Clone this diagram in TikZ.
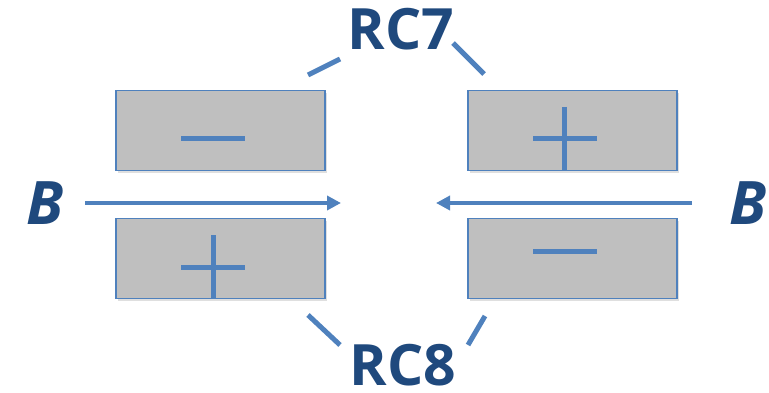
\documentclass[tikz,border=0pt]{standalone}
\usepackage{fontspec}
\setmainfont{Open Sans}
\usetikzlibrary{arrows.meta,shadows}
\definecolor{boxfill}{HTML}{BFBFBF}
\definecolor{lineblue}{HTML}{4F81BD}
\definecolor{textblue}{HTML}{1F497D}
\tikzset{
  plate/.style={draw=lineblue, line width=1.5pt, fill=boxfill, minimum width=209pt, minimum height=80pt, inner sep=0pt,
    drop shadow={shadow xshift=1.5pt, shadow yshift=-2.5pt, opacity=0.25}},
  sign/.style={draw=lineblue, line width=5pt},
  leader/.style={draw=lineblue, line width=5pt},
  field/.style={draw=lineblue, line width=4.5pt, -{Triangle[length=14pt,width=14pt]}},
  rclabel/.style={text=textblue, font=\fontsize{57}{58}\selectfont\bfseries, inner sep=0pt, text depth=0pt, anchor=base},
  blabel/.style={text=textblue, font=\fontsize{60}{62}\selectfont\bfseries\itshape, inner sep=0pt, anchor=base}
}
\begin{document}
\begin{tikzpicture}[x=1pt,y=-1pt]
\useasboundingbox (0,0) rectangle (769,393);
% plates
\node[plate] (tl) at (220.5,130.5) {};
\node[plate] (tr) at (572.5,130.5) {};
\node[plate] (bl) at (220.5,258.5) {};
\node[plate] (br) at (572.5,258.5) {};
% signs
\draw[sign] (181,139) -- (245,139);
\draw[sign] (533,139) -- (597,139);
\draw[sign] (564,107) -- (564,171);
\draw[sign] (181,267) -- (245,267);
\draw[sign] (213,235) -- (213,298);
\draw[sign] (533,251) -- (597,251);
% labels
\node[rclabel] (rc7) at (401,50) {RC7};
\node[rclabel] (rc8) at (403,385) {RC8};
\node[blabel] (bl1) at (45,225) {B};
\node[blabel] (bl2) at (748,225) {B};
% leaders
\coordinate (l1a) at (308,75); \coordinate (l1b) at (340,59);
\coordinate (l2a) at (453,43); \coordinate (l2b) at (484,74);
\coordinate (l3a) at (308,315); \coordinate (l3b) at (340,345);
\coordinate (l4a) at (485,316); \coordinate (l4b) at (468,345);
\draw[leader] (l1a) -- (l1b);
\draw[leader] (l2a) -- (l2b);
\draw[leader] (l3a) -- (l3b);
\draw[leader] (l4a) -- (l4b);
% field arrows
\coordinate (a1s) at (85,203); \coordinate (a1e) at (341,203);
\coordinate (a2s) at (692,203); \coordinate (a2e) at (436,203);
\draw[field] (a1s) -- (a1e);
\draw[field] (a2s) -- (a2e);
\end{tikzpicture}
\end{document}
